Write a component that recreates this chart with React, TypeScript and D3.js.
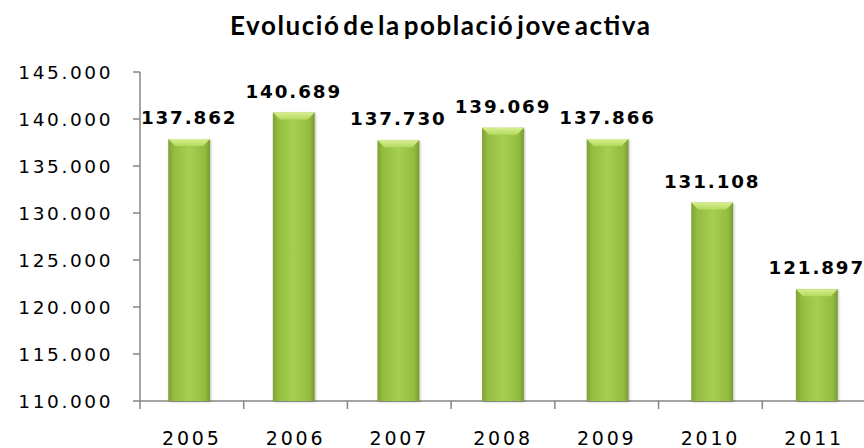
import React from "react";
import * as d3 from "d3";

const years = ["2005", "2006", "2007", "2008", "2009", "2010", "2011"];
const activos = [137862, 140689, 137730, 139069, 137866, 131108, 121897];
const yTicks = [110000, 115000, 120000, 125000, 130000, 135000, 140000, 145000];

const W = 864;
const H = 448;
const margin = { top: 72, right: -2, bottom: 47, left: 140 };

const fmt = (v: number) => d3.format(",")(v).replace(/,/g, ".");

export default function App() {
  const x = d3
    .scaleBand<string>()
    .domain(years)
    .range([margin.left, W - margin.right])
    .paddingInner(0.6)
    .paddingOuter(0.27);
  const band = d3.scaleBand<string>().domain(years).range([margin.left, W - margin.right]);
  const y = d3
    .scaleLinear()
    .domain([110000, 145000])
    .range([H - margin.bottom, margin.top]);

  const base = y(110000);
  const bw = x.bandwidth();

  return (
    <svg width={W} height={H} style={{ position: "absolute", left: 0, top: 0, background: "#fff" }}>
      <defs>
        <linearGradient id="barG" x1="0" x2="1" y1="0" y2="0">
          <stop offset="0" stopColor="#7f9f34" />
          <stop offset="0.12" stopColor="#93bb3f" />
          <stop offset="0.5" stopColor="#a7cf50" />
          <stop offset="0.88" stopColor="#93bb3f" />
          <stop offset="1" stopColor="#7a9a30" />
        </linearGradient>
        <linearGradient id="topG" x1="0" x2="0" y1="0" y2="1">
          <stop offset="0" stopColor="#d6ef90" />
          <stop offset="1" stopColor="#b4da5e" />
        </linearGradient>
        <filter id="sh" x="-20%" y="-5%" width="140%" height="110%">
          <feDropShadow dx="1" dy="1" stdDeviation="1.2" floodColor="#000" floodOpacity="0.25" />
        </filter>
      </defs>

      <text
        x={230}
        y={35}
        textLength={420}
        lengthAdjust="spacing"
        fontFamily="Lato, 'Open Sans', sans-serif"
        fontWeight="bold"
        fontSize={26}
        wordSpacing={-5}
        fill="#000"
      >
        Evolució de la població jove activa
      </text>

      {/* y axis */}
      <line x1={margin.left} x2={margin.left} y1={y(145000)} y2={base} stroke="#868686" strokeWidth={1.5} />
      {yTicks.map((t) => (
        <g key={t}>
          <line x1={margin.left - 7} x2={margin.left} y1={y(t)} y2={y(t)} stroke="#868686" strokeWidth={1.5} />
          <text
            x={margin.left - 27}
            y={y(t)}
            dy="0.36em"
            textAnchor="end"
            fontFamily="'DejaVu Sans', sans-serif"
            fontSize={18.5}
            letterSpacing={2.6}
            fill="#000"
          >
            {fmt(t)}
          </text>
        </g>
      ))}

      {/* x axis */}
      <line x1={margin.left} x2={W} y1={base} y2={base} stroke="#868686" strokeWidth={1.5} />
      {years.map((yr) => (
        <line
          key={"t" + yr}
          x1={band(yr)!}
          x2={band(yr)!}
          y1={base}
          y2={base + 8}
          stroke="#868686"
          strokeWidth={1.5}
        />
      ))}
      {years.map((yr) => (
        <text
          key={"l" + yr}
          x={band(yr)! + band.bandwidth() / 2}
          y={445}
          textAnchor="middle"
          fontFamily="'DejaVu Sans', sans-serif"
          fontSize={19}
          letterSpacing={2.8}
          fill="#000"
        >
          {yr}
        </text>
      ))}

      {/* bars */}
      {years.map((yr, i) => {
        const x0 = x(yr)!;
        const top = y(activos[i]);
        const bev = 7;
        return (
          <g key={"b" + yr} filter="url(#sh)">
            <rect x={x0} y={top} width={bw} height={base - top} fill="url(#barG)" />
            <polygon
              points={`${x0},${top} ${x0 + bw},${top} ${x0 + bw - bev},${top + bev} ${x0 + bev},${top + bev}`}
              fill="url(#topG)"
            />
          </g>
        );
      })}

      {/* value labels */}
      {years.map((yr, i) => (
        <text
          key={"v" + yr}
          x={x(yr)! + bw / 2}
          y={y(activos[i]) - 15}
          textAnchor="middle"
          fontFamily="'DejaVu Sans', sans-serif"
          fontWeight="bold"
          fontSize={18.3}
          letterSpacing={1.9}
          fill="#000"
        >
          {fmt(activos[i])}
        </text>
      ))}
    </svg>
  );
}
